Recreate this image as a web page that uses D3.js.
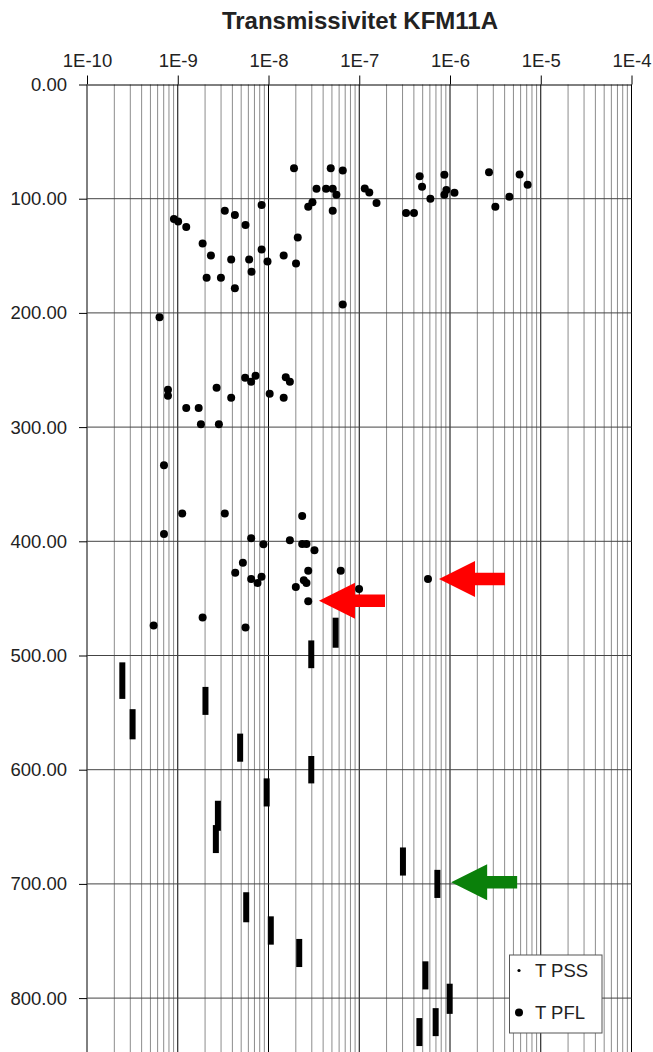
<!DOCTYPE html>
<html>
<head>
<meta charset="utf-8">
<script src="https://d3js.org/d3.v7.min.js"></script>
<style>
  body { margin: 0; background: #fff; }
  text { font-family: "Liberation Sans", Arial, sans-serif; }
</style>
</head>
<body>
<div class="box"></div>
<script>
// DATA

// T PFL: transmissivity (m2/s) and depth (m)
const pflT = [1.91e-8, 4.85e-8, 6.58e-8, 3.38e-8, 4.31e-8, 5.1e-8, 5.6e-8, 1.15e-7, 1.29e-7, 1.55e-7,
  3.05e-8, 2.74e-8, 5.1e-8, 8.4e-9, 3.3e-9, 4.26e-9, 5.58e-9, 9.08e-10, 1.01e-9, 1.24e-9,
  2.1e-8, 1.88e-9, 2.32e-9, 8.4e-9, 3.88e-9, 6.12e-9, 9.75e-9, 1.47e-8, 2.01e-8, 6.5e-9,
  2.08e-9, 2.99e-9, 4.26e-9, 6.58e-8, 6.3e-10, 3.28e-7, 4.01e-7, 4.63e-7, 4.92e-7, 6.08e-7,
  8.67e-7, 9.12e-7, 8.67e-7, 1.12e-6, 2.69e-6, 3.16e-6, 4.51e-6, 5.85e-6, 7.17e-6,
  7.8e-10, 7.8e-10, 1.24e-9, 1.7e-9, 1.8e-9, 2.84e-9, 2.68e-9, 3.88e-9, 5.53e-9, 6.44e-9,
  7.2e-9, 1.03e-8, 1.47e-8, 1.55e-8, 1.72e-8, 7.05e-10,
  1.12e-9, 3.3e-9, 2.35e-8, 7.05e-10, 6.44e-9, 8.8e-9, 1.72e-8, 2.35e-8, 2.62e-8, 3.21e-8,
  5.22e-9, 4.3e-9, 6.44e-9, 8.38e-9, 7.57e-9, 2.74e-8, 6.25e-8, 2.45e-8, 2.62e-8, 2e-8,
  9.95e-8, 2.74e-8, 1.88e-9, 5.42e-10, 5.58e-9, 5.72e-7];
const pflDepth = [73.4, 73.4, 75.2, 91.2, 91.2, 91.2, 96.5, 91, 94.5, 103.8,
  103.2, 107, 110.5, 105.5, 110.5, 114.3, 123, 117.8, 119.9, 124.8,
  133.9, 139.2, 149.7, 144.5, 153.2, 153.2, 155, 149.7, 156.7, 164,
  169.3, 169.3, 178.4, 192.7, 203.8, 112.6, 112.6, 80.4, 89.5, 100,
  79, 92.4, 96.5, 94.7, 76.9, 107, 98.2, 78.7, 87.7,
  267.3, 272.5, 283.3, 283.3, 297.4, 297.4, 265.5, 274.3, 256.7, 260.2,
  255, 270.7, 274.3, 256.4, 260.2, 333.3,
  375.7, 375.7, 377.8, 393.6, 397.4, 402.6, 399.1, 402.4, 402.4, 407.9,
  418.7, 427.5, 433, 431, 436.6, 425.7, 425.7, 434.2, 436.6, 440,
  441.8, 452.6, 466.7, 473.7, 475.4, 433];

// T PSS: transmissivity and tested section (secup, seclow)
const pssT = [5.49e-8, 2.96e-8, 2.45e-10, 3.18e-10, 2.02e-9, 4.87e-9, 2.96e-8, 9.55e-9, 2.77e-9, 2.63e-9,
  5.68e-9, 1.06e-8, 2.18e-8, 3.03e-7, 7.26e-7, 5.36e-7, 9.92e-7, 6.95e-7, 4.6e-7];
const pssTop = [466.9, 486.8, 506, 547, 527.5, 568.4, 588, 607.6, 627.2, 648.5,
  707.3, 728.4, 748.2, 668.1, 687.7, 767.8, 787.4, 808.8, 817.5];
const pssBottom = [493.2, 511.1, 538, 573.4, 552, 593, 612, 632.2, 653.5, 673,
  733.6, 753.2, 772.8, 692.7, 712.3, 792.4, 813.8, 833.3, 842];

// arrows pointing at the marked values
const arrowT = [3.6e-8, 7.57e-7, 1.03e-6];
const arrowDepth = [452, 433, 698.6];
const arrowColor = ['#ff0000', '#ff0000', '#0a800a'];

// axis ticks
const xTicks = [1e-10, 1e-9, 1e-8, 1e-7, 1e-6, 1e-5, 1e-4];
const yTicks = [0, 100, 200, 300, 400, 500, 600, 700, 800];

// SETUP

const dims = {width: 653, height: 1052, left: 87, right: 631.5, top: 84.5};

const svg = d3.select('.box')
              .append('svg')
              .attr('width', dims.width)
              .attr('height', dims.height);

const x = d3.scaleLog()
            .domain([1e-10, 1e-4])
            .range([dims.left, dims.right]);

const y = d3.scaleLinear()
            .domain([0, 850])
            .range([dims.top, dims.top + 850 * 1.142]);

// title
svg.append('text')
   .attr('x', 360)
   .attr('y', 29)
   .attr('text-anchor', 'middle')
   .attr('font-size', 24)
   .attr('font-weight', 'bold')
   .attr('fill', '#222')
   .text('Transmissivitet KFM11A');

// GRID

const grid = svg.append('g');

// minor / major vertical lines
const isDecade = d => Math.abs(Math.log10(d) - Math.round(Math.log10(d))) < 1e-6;
grid.selectAll('line.v')
    .data(x.ticks())
    .enter()
    .append('line')
    .attr('x1', d => x(d))
    .attr('x2', d => x(d))
    .attr('y1', dims.top)
    .attr('y2', dims.height)
    .attr('stroke', d => isDecade(d) ? '#000' : '#8c8c8c')
    .attr('stroke-width', 1);

// horizontal lines every 100 m
grid.selectAll('line.h')
    .data(yTicks.slice(1))
    .enter()
    .append('line')
    .attr('x1', dims.left)
    .attr('x2', dims.right)
    .attr('y1', d => y(d))
    .attr('y2', d => y(d))
    .attr('stroke', '#444')
    .attr('stroke-width', 1);

// AXES

const xAxis = d3.axisTop(x)
                .tickValues(xTicks)
                .tickSize(9)
                .tickSizeOuter(0)
                .tickPadding(9)
                .tickFormat(d => '1E' + Math.round(Math.log10(d)));

svg.append('g')
   .attr('transform', `translate(0, ${dims.top})`)
   .call(xAxis)
   .call(g => g.selectAll('text').attr('font-size', 18.5).attr('fill', '#222').attr('font-family', null))
   .call(g => g.selectAll('line, path').attr('stroke', '#000'));

const yAxis = d3.axisLeft(y)
                .tickValues(yTicks)
                .tickSize(8)
                .tickSizeOuter(0)
                .tickPadding(12)
                .tickFormat(d3.format('.2f'));

svg.append('g')
   .attr('transform', `translate(${dims.left}, 0)`)
   .call(yAxis)
   .call(g => g.select('.domain').remove())
   .call(g => g.selectAll('text').attr('font-size', 18.5).attr('fill', '#222').attr('font-family', null))
   .call(g => g.selectAll('line').attr('stroke', '#000'));

// MARKS

// PSS sections as thick bars
svg.append('g')
   .selectAll('rect')
   .data(pssT)
   .enter()
   .append('rect')
   .attr('x', d => x(d) - 3)
   .attr('y', (d, i) => y(pssTop[i]))
   .attr('width', 6)
   .attr('height', (d, i) => y(pssBottom[i]) - y(pssTop[i]))
   .attr('fill', '#000');

// PFL dots
svg.append('g')
   .selectAll('circle')
   .data(pflT)
   .enter()
   .append('circle')
   .attr('cx', d => x(d))
   .attr('cy', (d, i) => y(pflDepth[i]))
   .attr('r', 4)
   .attr('fill', '#000');

// arrows (tip at the value, pointing left)
const arrowPath = 'M0,0 L36,-18 L36,-6.2 L66,-6.2 L66,6.2 L36,6.2 L36,18 Z';
svg.append('g')
   .selectAll('path')
   .data(arrowT)
   .enter()
   .append('path')
   .attr('d', arrowPath)
   .attr('transform', (d, i) => `translate(${x(d)}, ${y(arrowDepth[i])})`)
   .attr('fill', (d, i) => arrowColor[i]);

// LEGEND

const legend = svg.append('g')
                  .attr('transform', 'translate(509.5, 955)');

legend.append('rect')
      .attr('width', 92.5)
      .attr('height', 78)
      .attr('fill', '#fff')
      .attr('stroke', '#555');

legend.append('circle').attr('cx', 9.5).attr('cy', 15.5).attr('r', 1.6).attr('fill', '#000');
legend.append('circle').attr('cx', 9.5).attr('cy', 57.5).attr('r', 4).attr('fill', '#000');

legend.selectAll('text')
      .data(['T PSS', 'T PFL'])
      .enter()
      .append('text')
      .attr('x', 25.5)
      .attr('y', (d, i) => 22 + i * 42)
      .attr('font-size', 18.5)
      .attr('fill', '#222')
      .text(d => d);
</script>
</body>
</html>
